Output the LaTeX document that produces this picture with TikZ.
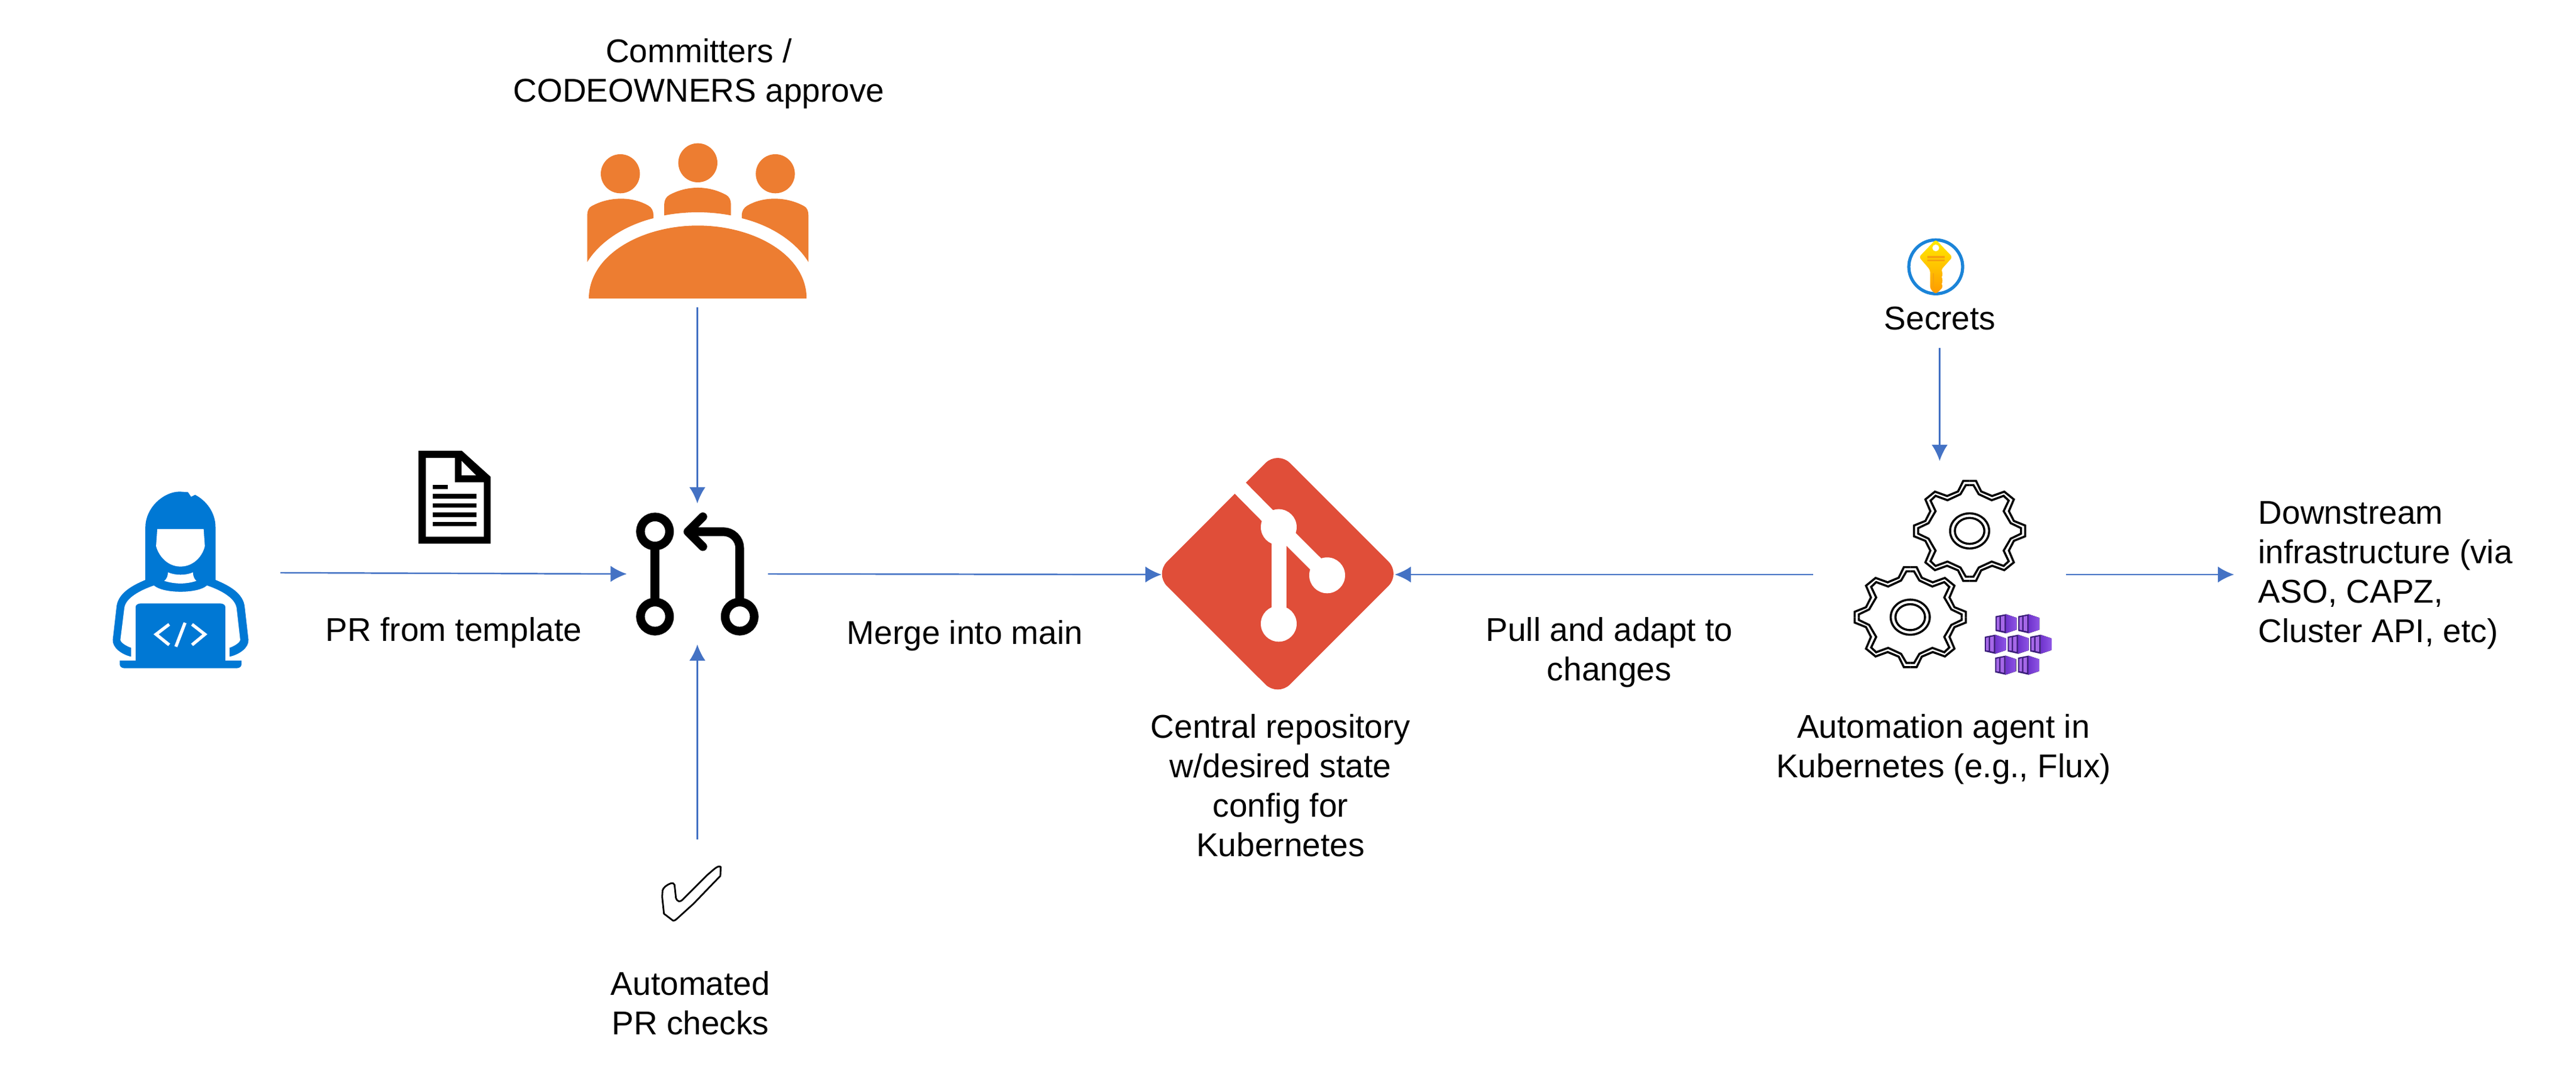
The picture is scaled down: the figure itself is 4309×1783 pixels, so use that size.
\documentclass[tikz,border=0pt]{standalone}
\usepackage{fontspec}
\setmainfont{Liberation Sans}
\usetikzlibrary{arrows.meta}
\definecolor{flowblue}{HTML}{4472C4}
\definecolor{devblue}{HTML}{0078D4}
\definecolor{teamorange}{HTML}{ED7D31}
\definecolor{gitred}{HTML}{E04E39}
\definecolor{keyblue}{HTML}{1B84D8}
\definecolor{keybar}{HTML}{F7A30C}
\definecolor{cubeleft}{HTML}{6F33CC}
\definecolor{cuberight}{HTML}{8E55E5}
\definecolor{cubedark}{HTML}{3B1E7A}
\definecolor{cubelight}{HTML}{A668E8}
\tikzset{
  flow/.style={-{Latex[length=0.27cm,width=0.27cm]},draw=flowblue,line width=0.7pt},
  caption/.style={font=\fontsize{15.65pt}{18.8pt}\selectfont,align=center,inner sep=0pt},
  hook/.style={inner sep=0pt,outer sep=0pt},
  gear/.pic={
    \foreach \sx/\sy in {1/1,1/-1,-1/1,-1/-1} {
      \draw [line width=1pt,line join=miter,xscale=\sx,yscale=\sy]
        (0,-251) -- (32,-251) -- (58,-198) -- (113,-175) -- (174,-197) -- (222,-158)
        -- (197,-99) -- (222,-50) -- (279,-27) -- (279,0);
      \draw [line width=1pt,line join=miter,xscale=\sx,yscale=\sy]
        (0,-230) -- (19,-230) -- (46,-184) -- (111,-154) -- (171,-176) -- (196,-152)
        -- (171,-99) -- (206,-39) -- (258,-14) -- (258,0);
    }
    \draw [line width=1pt] (0,0) ellipse (98 and 88);
    \draw [line width=1pt] (0,0) ellipse (74 and 65);
  },
  podcube/.pic={
    \fill [left color=cubeleft,right color=cuberight] (52,0) -- (106,18) -- (106,78) -- (52,96) -- cycle;
    \fill [cubedark] (0,10) -- (52,0) -- (52,96) -- (0,84) -- cycle;
    \fill [cubelight] (6,16) -- (20,13) -- (20,80) -- (6,78) -- cycle;
    \fill [cubelight] (27,12) -- (45,8) -- (45,86) -- (27,82) -- cycle;
  }
}
\begin{document}
\begin{tikzpicture}[x=0.01cm,y=-0.01cm]
    \useasboundingbox [fill=white] (0,0) rectangle (4309,1783);

    % Hooks for the arrows:
    \node [hook,minimum width=5.62cm,minimum height=2cm] (developer) at (188,958) {};
    \node [hook,minimum width=2.36cm,minimum height=2.36cm] (prmerge) at (1166.5,960) {};
    \node [hook,minimum width=3.90cm,minimum height=3.90cm] (gitrepo) at (2138,961) {};
    \node [hook,minimum width=4.23cm,minimum height=3.80cm] (agent) at (3244.5,961) {};
    \coordinate (team) at (1166.5,514);
    \coordinate (checks) at (1166.5,1404);
    \coordinate (vault) at (3244.5,582);

    % Captions:
    \node [caption] (teamtext) at (1169,123) {Committers /\\CODEOWNERS approve};
    \node [caption] (templatetext) at (759,1058) {PR from template};
    \node [caption] (mergetext) at (1614,1063) {Merge into main};
    \node [caption] (checkstext) at (1155,1678) {Automated\\PR checks};
    \node [caption] (repotext) at (2142,1314) {Central repository\\w/desired state\\config for\\Kubernetes};
    \node [caption] (pulltext) at (2692,1091) {Pull and adapt to\\changes};
    \node [caption] (secretstext) at (3245,533) {Secrets};
    \node [caption] (agenttext) at (3251,1253) {Automation agent in\\Kubernetes (e.g., Flux)};
    \node [caption,align=left,anchor=west,inner xsep=0.40cm] (infra) at (3737,962)
      {Downstream\\infrastructure (via\\ASO, CAPZ,\\Cluster API, etc)};

    % Arrows:
    \draw [flow] (developer.east) -- (prmerge.west);
    \draw [flow] (team) -- (prmerge.north);
    \draw [flow] (checks) -- (prmerge.south);
    \draw [flow] (prmerge.east) -- (gitrepo.west);
    \draw [flow] (agent.west) -- (gitrepo.east);
    \draw [flow] (agent.east) -- (agent.east -| infra.west);
    \draw [flow] (vault) -- (agent.north);

    % Developer:
    \begin{scope}[shift={(130,700)},xscale=0.51,yscale=0.3333]
    \fill [devblue] (222,810) -- (222,545) .. controls (222,450) and (280,367) .. (335,367)
      -- (362,370) -- (372,393) -- (385,383) .. controls (420,410) and (452,470) .. (452,545)
      -- (452,810) .. controls (500,840) and (545,880) .. (548,950) -- (560,1110)
      .. controls (562,1150) and (530,1185) .. (498,1195) -- (175,1195)
      .. controls (145,1185) and (113,1150) .. (115,1110) -- (127,950)
      .. controls (130,880) and (175,840) .. (222,810) -- cycle;
    \fill [white] (250,838) .. controls (280,880) and (395,880) .. (424,838)
      .. controls (470,862) and (515,900) .. (521,950) -- (533,1110)
      .. controls (533,1125) and (510,1145) .. (498,1150) -- (498,1215) -- (175,1215) -- (175,1150)
      .. controls (163,1145) and (140,1125) .. (140,1110) -- (153,950)
      .. controls (158,900) and (205,862) .. (250,838) -- cycle;
    \fill [white] (261,555) -- (413,555) -- (417,640) .. controls (410,690) and (380,743) .. (337,743)
      .. controls (295,743) and (265,690) .. (257,640) -- cycle;
    \fill [white] (296,772) .. controls (320,788) and (355,788) .. (378,772)
      .. controls (378,790) and (382,805) .. (389,815) .. controls (355,832) and (320,832) .. (284,815)
      .. controls (292,805) and (296,790) .. (296,772) -- cycle;
    \fill [devblue] (190,1215) -- (190,945) .. controls (190,935) and (198,928) .. (208,928) -- (466,928)
      .. controls (476,928) and (484,935) .. (484,945) -- (484,1215) -- cycle;
    \fill [devblue] (138,1215) -- (537,1215) -- (537,1235) .. controls (537,1245) and (530,1253) .. (522,1253)
      -- (153,1253) .. controls (145,1253) and (138,1245) .. (138,1235) -- cycle;
    \draw [white,line width=1.5pt] (300,1033) -- (257,1083) -- (300,1136);
    \draw [white,line width=1.5pt] (375,1033) -- (417,1083) -- (375,1136);
    \draw [white,line width=1.5pt] (352,1025) -- (322,1145);
    \end{scope}

    % Template document:
    \begin{scope}[shift={(130,700)},xscale=0.51,yscale=0.3333]
    \fill [black] (1118,162) -- (1260,162) -- (1354,292) -- (1354,628) -- (1118,628) -- cycle;
    \fill [white] (1142,198) -- (1237,198) -- (1237,320) -- (1332,320) -- (1332,593) -- (1142,593) -- cycle;
    \fill [white] (1259,213) -- (1306,285) -- (1259,285) -- cycle;
    \fill [black] (1164,332) rectangle (1214,355);
    \foreach \liney in {379,425,471,518}
      \fill [black] (1164,\liney) rectangle (1308,\liney+23);
    \end{scope}

    % People round the table:
    \begin{scope}[shift={(900,200)},xscale=0.3846,yscale=0.3333,teamorange]
    \foreach \headx/\heady in {358/272,695/217,1032/272}
      \fill (\headx,\heady) ellipse (85 and 98);
    \fill (214,715) -- (214,480) .. controls (214,460) and (220,442) .. (232,435)
      .. controls (310,385) and (410,385) .. (480,432) .. controls (495,442) and (502,460) .. (502,480)
      -- (502,495) .. controls (380,530) and (270,610) .. (214,715) -- cycle;
    \fill (1176,715) -- (1176,480) .. controls (1176,460) and (1170,442) .. (1158,435)
      .. controls (1080,385) and (980,385) .. (910,432) .. controls (895,442) and (886,460) .. (886,480)
      -- (886,495) .. controls (1010,530) and (1120,610) .. (1176,715) -- cycle;
    \fill (549,481) -- (549,425) .. controls (549,405) and (557,387) .. (572,378)
      .. controls (650,330) and (740,330) .. (818,378) .. controls (832,387) and (839,405) .. (839,425)
      -- (839,481) .. controls (745,460) and (645,460) .. (549,481) -- cycle;
    \fill (221,898) .. controls (221,680) and (450,532) .. (695,532)
      .. controls (940,532) and (1168,680) .. (1168,898) -- cycle;
    \end{scope}

    % Pull request glyph:
    \begin{scope}[shift={(1000,800)},scale=0.3333]
    \foreach \ringx/\ringy in {287/267,287/694,712/694}
      \draw [line width=4.1pt] (\ringx,\ringy) circle (73);
    \draw [line width=4.1pt] (287,340) -- (287,620);
    \draw [line width=4.1pt,line join=round] (712,620) -- (712,350)
      .. controls (712,305) and (675,268) .. (630,268) -- (450,268);
    \draw [line width=4.1pt,line cap=round,line join=round] (527,193) -- (452,268) -- (527,343);
    \end{scope}

    % Check mark:
    \begin{scope}[shift={(1060,1400)},scale=0.3333]
    \draw [line width=0.8pt,line join=round] (205,240) .. controls (203,232) and (195,230) .. (185,233)
      .. controls (165,240) and (148,255) .. (145,268) -- (143,300) -- (152,385) -- (198,420)
      .. controls (208,420) and (215,412) .. (225,403) -- (300,335) -- (435,195) -- (437,150)
      .. controls (430,145) and (420,148) .. (405,160) -- (370,190) -- (245,315)
      .. controls (232,328) and (218,325) .. (212,305) -- cycle;
    \end{scope}

    % Git logo:
    \begin{scope}[shift={(1900,740)},scale=0.3333]
    \fill [gitred,rounded corners=0.29cm] (712,42) -- (1329,659) -- (712,1276) -- (95,660) -- cycle;
    \draw [white,line width=7.4pt] (490,195) -- (717,425) -- (960,667);
    \draw [white,line width=7.2pt] (719,425) -- (719,910);
    \foreach \dotx/\doty in {717/425,960/667,717/910}
      \fill [white] (\dotx,\doty) circle (90);
    \end{scope}

    % Key:
    \begin{scope}[shift={(3150,380)},scale=0.3333]
    \draw [keyblue,line width=1.5pt] (264,199) circle (135);
    \path [top color=yellow!85!orange,bottom color=orange!80!yellow,rounded corners=0.04cm]
      (264,62) -- (348,150) -- (290,215) -- (302,235) -- (290,250) -- (302,268) -- (290,285) -- (302,300)
      -- (264,336) -- (236,310) -- (236,215) -- (180,150) -- cycle;
    \fill [white] (264,104) circle (17);
    \fill [keybar] (222,145) rectangle (308,155);
    \fill [keybar] (222,162) rectangle (308,172);
    \fill [keybar] (249,232) rectangle (256,305);
    \end{scope}

    % Gears and pods:
    \begin{scope}[shift={(3000,780)},scale=0.3333]
    \pic [transform shape] (upper) at (884,324) {gear};
    \pic [transform shape] (lower) at (586,757) {gear};
    \foreach \cubex/\cubey in {1014/742,1128/742,960/845,1075/845,1188/845,1012/950,1127/950}
      \pic [transform shape] at (\cubex,\cubey) {podcube};
    \end{scope}
\end{tikzpicture}
\end{document}
